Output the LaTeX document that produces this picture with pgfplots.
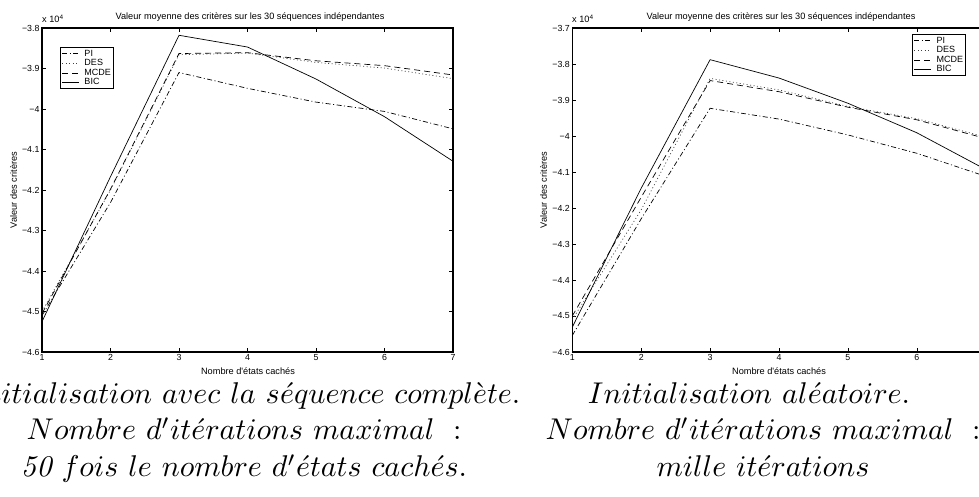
\documentclass[border=0pt]{standalone}
\usepackage{fontspec}
\usepackage{pgfplots}
\pgfplotsset{compat=1.18}
\newfontfamily\arial{Liberation Sans}

\pgfplotstableread{
x PI DES MCDE BIC
1 -4.510 -4.500 -4.505 -4.525
2 -4.231 -4.200 -4.198 -4.167
3 -3.910 -3.866 -3.863 -3.818
4 -3.949 -3.862 -3.861 -3.847
5 -3.983 -3.885 -3.881 -3.926
6 -4.006 -3.899 -3.893 -4.019
7 -4.049 -3.925 -3.916 -4.129
}\lefttab
\pgfplotstableread{
x PI DES MCDE BIC
1 -4.554 -4.510 -4.500 -4.531
2 -4.230 -4.205 -4.170 -4.145
3 -3.923 -3.840 -3.846 -3.788
4 -3.953 -3.872 -3.877 -3.839
5 -3.997 -3.918 -3.920 -3.909
6 -4.048 -3.952 -3.955 -3.991
7 -4.112 -4.003 -4.007 -4.093
}\righttab

\pgfplotsset{
  mat/.style={
    scale only axis, height=324pt,
    xmin=1, xmax=7, xtick={1,2,3,4,5,6,7}, xticklabels={1,2,3,4,5,6,7},
    tick align=inside, tick pos=both,
    major tick length=4pt,
    axis line style={line width=1.1pt},
    tick style={line width=0.6pt, black},
    ticklabel style={font=\arial\fontsize{8.8}{10}\selectfont},
    yticklabel style={xshift=1pt},
    xticklabel style={yshift=1pt},
    legend cell align=left,
    legend style={draw=black, line width=0.8pt, fill=white, inner sep=1.5pt,
      font=\arial\fontsize{9}{9}\selectfont, row sep=0pt,
      nodes={inner sep=0.9pt}},
    legend image code/.code={\draw[##1] (1pt,0pt) -- (18pt,0pt); \path (22pt,0pt);},
  },
  pi/.style={black, line width=0.7pt, dash pattern=on 5pt off 2.5pt on 1pt off 2.5pt},
  des/.style={black!75, line width=0.7pt, dash pattern=on 1pt off 2.5pt},
  mcde/.style={black, line width=0.7pt, dash pattern=on 6pt off 4pt},
  bic/.style={black, line width=0.7pt},
}

\begin{document}
\begin{tikzpicture}
\useasboundingbox (0pt,0pt) rectangle (979pt,497pt);
\clip (0pt,0pt) rectangle (979pt,497pt);

% ---------- left panel ----------
\begin{axis}[mat, at={(42pt,145pt)}, anchor=south west, width=411pt,
  ymin=-4.6, ymax=-3.8,
  ytick={-4.6,-4.5,-4.4,-4.3,-4.2,-4.1,-4,-3.9,-3.8},
  yticklabels={−4.6,−4.5,−4.4,−4.3,−4.2,−4.1,−4,−3.9,−3.8},
  legend style={at={(0.0438,0.941)}, anchor=north west}]
\addplot[pi] table[x=x,y=PI] {\lefttab}; \addlegendentry{PI}
\addplot[des] table[x=x,y=DES] {\lefttab}; \addlegendentry{DES}
\addplot[mcde] table[x=x,y=MCDE] {\lefttab}; \addlegendentry{MCDE}
\addplot[bic] table[x=x,y=BIC] {\lefttab}; \addlegendentry{BIC}
\end{axis}

% ---------- right panel ----------
\begin{axis}[mat, at={(572.3pt,145pt)}, anchor=south west, width=413.4pt,
  ymin=-4.6, ymax=-3.7,
  ytick={-4.6,-4.5,-4.4,-4.3,-4.2,-4.1,-4,-3.9,-3.8,-3.7},
  yticklabels={−4.6,−4.5,−4.4,−4.3,−4.2,−4.1,−4,−3.9,−3.8,−3.7},
  legend style={at={(0.952,0.981)}, anchor=north east}]
\addplot[pi] table[x=x,y=PI] {\righttab}; \addlegendentry{PI}
\addplot[des] table[x=x,y=DES] {\righttab}; \addlegendentry{DES}
\addplot[mcde] table[x=x,y=MCDE] {\righttab}; \addlegendentry{MCDE}
\addplot[bic] table[x=x,y=BIC] {\righttab}; \addlegendentry{BIC}
\end{axis}

% ---------- axis texts ----------
\begin{scope}[every node/.style={font=\arial\fontsize{9.2}{10}\selectfont, inner sep=0pt}]
\node[anchor=base] at (250pt,477pt) {Valeur moyenne des critères sur les 30 séquences indépendantes};
\node[anchor=base west] at (42pt,474pt) {x 10\textsuperscript{4}};
\node[rotate=90] at (13.5pt,307pt) {Valeur des critères};
\node[anchor=base] at (248pt,122pt) {Nombre d'états cachés};

\node[anchor=base] at (781pt,477pt) {Valeur moyenne des critères sur les 30 séquences indépendantes};
\node[anchor=base west] at (572pt,474pt) {x 10\textsuperscript{4}};
\node[rotate=90] at (543.5pt,307pt) {Valeur des critères};
\node[anchor=base] at (779pt,122pt) {Nombre d'états cachés};
\end{scope}

% ---------- captions (math italic, as in the original) ----------
\begin{scope}[every node/.style={font=\fontsize{10}{12}\selectfont, scale=3, inner sep=0pt, anchor=base}]
\node at (244pt,93.5pt) {$Initialisation\ avec\ la\ s\acute{e}quence\ compl\grave{e}te.$};
\node at (244pt,57pt) {$Nombre\ d'it\acute{e}rations\ maximal\ :$};
\node at (244pt,20pt) {$\mathit{50}\ fois\ le\ nombre\ d'\acute{e}tats\ cach\acute{e}s.$};
\node at (749pt,93.5pt) {$Initialisation\ al\acute{e}atoire.$};
\node at (763pt,57pt) {$Nombre\ d'it\acute{e}rations\ maximal\ :$};
\node at (763pt,20pt) {$mille\ it\acute{e}rations$};
\end{scope}
\end{tikzpicture}
\end{document}
